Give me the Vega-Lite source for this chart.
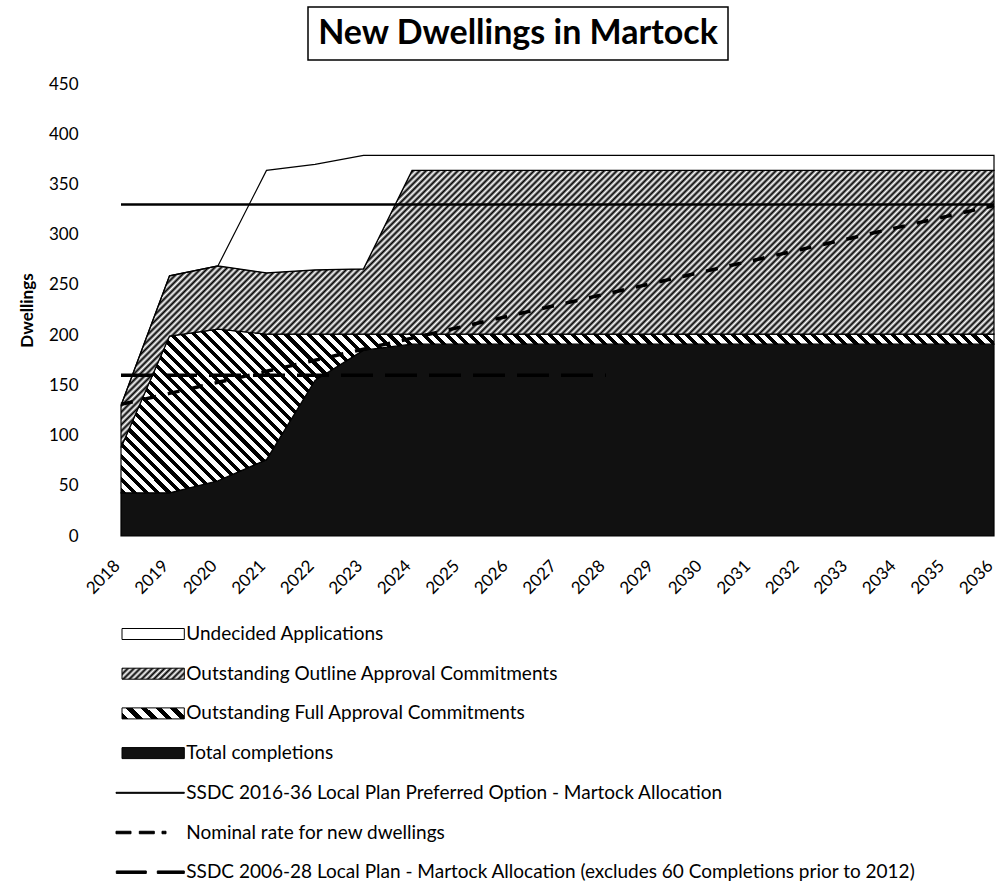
{
"$schema": "https://vega.github.io/schema/vega-lite/v6.json",
"background": "#ffffff",
"padding": {"left": 18, "top": 6, "right": 0, "bottom": 0},
"config": {"font": "Lato", "view": {"stroke": null}},
"datasets": {
"dwellings": [
{"year":2018,"completions":43,"full":45,"outline":42,"undecided":0,"preferred":330,"nominal":131,"plan2006":160},
{"year":2019,"completions":43,"full":156,"outline":60,"undecided":0,"preferred":330,"nominal":142,"plan2006":160},
{"year":2020,"completions":55,"full":151,"outline":63,"undecided":0,"preferred":330,"nominal":153,"plan2006":160},
{"year":2021,"completions":76,"full":125,"outline":61,"undecided":102,"preferred":330,"nominal":164,"plan2006":160},
{"year":2022,"completions":155,"full":46,"outline":64,"undecided":105,"preferred":330,"nominal":175,"plan2006":160},
{"year":2023,"completions":185,"full":16,"outline":65,"undecided":113,"preferred":330,"nominal":186,"plan2006":160},
{"year":2024,"completions":191,"full":10,"outline":163,"undecided":15,"preferred":330,"nominal":197,"plan2006":160},
{"year":2025,"completions":191,"full":10,"outline":163,"undecided":15,"preferred":330,"nominal":208,"plan2006":160},
{"year":2026,"completions":191,"full":10,"outline":163,"undecided":15,"preferred":330,"nominal":219,"plan2006":160},
{"year":2027,"completions":191,"full":10,"outline":163,"undecided":15,"preferred":330,"nominal":230,"plan2006":160},
{"year":2028,"completions":191,"full":10,"outline":163,"undecided":15,"preferred":330,"nominal":241,"plan2006":160},
{"year":2029,"completions":191,"full":10,"outline":163,"undecided":15,"preferred":330,"nominal":252},
{"year":2030,"completions":191,"full":10,"outline":163,"undecided":15,"preferred":330,"nominal":263},
{"year":2031,"completions":191,"full":10,"outline":163,"undecided":15,"preferred":330,"nominal":274},
{"year":2032,"completions":191,"full":10,"outline":163,"undecided":15,"preferred":330,"nominal":285},
{"year":2033,"completions":191,"full":10,"outline":163,"undecided":15,"preferred":330,"nominal":296},
{"year":2034,"completions":191,"full":10,"outline":163,"undecided":15,"preferred":330,"nominal":307},
{"year":2035,"completions":191,"full":10,"outline":163,"undecided":15,"preferred":330,"nominal":318},
{"year":2036,"completions":191,"full":10,"outline":163,"undecided":15,"preferred":330,"nominal":329}
],
"title": [{"t": "New Dwellings in Martock"}],
"spacer": [{"t": ""}],
"legend": [
{"label": "Undecided Applications"},
{"label": "Outstanding Outline Approval Commitments"},
{"label": "Outstanding Full Approval Commitments"},
{"label": "Total completions"},
{"label": "SSDC 2016-36 Local Plan Preferred Option - Martock Allocation"},
{"label": "Nominal rate for new dwellings"},
{"label": "SSDC 2006-28 Local Plan - Martock Allocation (excludes 60 Completions prior to 2012)"}
]
},
"spacing": 14,
"center": false,
"resolve": {"scale": {"fill": "independent", "shape": "independent", "stroke": "independent"}, "legend": {"fill": "independent", "shape": "independent", "stroke": "independent"}},
"vconcat": [
{
"hconcat": [
{
"data": {"name": "spacer"},
"width": 186,
"height": 53,
"view": {"fill": "#ffffff", "stroke": null},
"mark": {"type": "text"},
"encoding": {"text": {"field": "t"}}
},
{
"data": {"name": "title"},
"width": 420,
"height": 53,
"view": {"stroke": "#000000", "strokeWidth": 1.5},
"mark": {"type": "text", "font": "Lato", "fontSize": 34, "fontWeight": "bold", "color": "#000000"},
"encoding": {"text": {"field": "t"}}
}
],
"spacing": 0
},
{
"width": 873,
"height": 452,
"layer": [
{
"data": {"name": "dwellings"},
"transform": [
{"fold": ["completions","full","outline","undecided"], "as": ["series","value"]},
{"stack": "value", "groupby": ["year"], "sort": [{"field": "series", "order": "ascending"}], "as": ["v0","v1"]}
],
"encoding": {
"x": {"field": "year", "type": "quantitative", "scale": {"domain": [2018, 2036], "nice": false, "zero": false},
"axis": {"title": null, "values": [2018,2019,2020,2021,2022,2023,2024,2025,2026,2027,2028,2029,2030,2031,2032,2033,2034,2035,2036], "format": "d", "grid": false, "ticks": false, "domain": false, "labelAngle": -45, "labelAlign": "right", "labelBaseline": "middle", "labelPadding": 27, "labelOffset": -4, "labelFont": "Lato", "labelFontSize": 17, "labelColor": "#000000", "labelFlush": false, "labelOverlap": false}},
"y": {"field": "v1", "type": "quantitative", "scale": {"domain": [0, 450], "nice": false},
"axis": {"title": "Dwellings", "values": [0,50,100,150,200,250,300,350,400,450], "grid": false, "ticks": false, "domain": false, "labelFont": "Lato", "labelFontSize": 17, "labelColor": "#000000", "labelPadding": 43, "labelFlush": false, "titleFont": "Lato", "titleFontSize": 17, "titleFontWeight": "bold", "titleColor": "#000000", "titlePadding": 12}},
"y2": {"field": "v0"}
},
"layer": [
{"transform": [{"filter": "datum.series === 'completions'"}], "mark": {"type": "area", "fill": "#111111", "stroke": "#000000", "strokeWidth": 1.2}},
{"transform": [{"filter": "datum.series === 'full'"}], "mark": {"type": "area", "stroke": "#000000", "strokeWidth": 1.2, "fill": {"gradient": "linear", "x1": 0, "y1": 1, "x2": 1.2671, "y2": 0.7625, "stops": [
{"offset":0,"color":"#000"},{"offset":0.0045,"color":"#000"},{"offset":0.0045,"color":"#fff"},{"offset":0.01,"color":"#fff"},
{"offset":0.01,"color":"#000"},{"offset":0.0145,"color":"#000"},{"offset":0.0145,"color":"#fff"},{"offset":0.02,"color":"#fff"},
{"offset":0.02,"color":"#000"},{"offset":0.0245,"color":"#000"},{"offset":0.0245,"color":"#fff"},{"offset":0.03,"color":"#fff"},
{"offset":0.03,"color":"#000"},{"offset":0.0345,"color":"#000"},{"offset":0.0345,"color":"#fff"},{"offset":0.04,"color":"#fff"},
{"offset":0.04,"color":"#000"},{"offset":0.0445,"color":"#000"},{"offset":0.0445,"color":"#fff"},{"offset":0.05,"color":"#fff"},
{"offset":0.05,"color":"#000"},{"offset":0.0545,"color":"#000"},{"offset":0.0545,"color":"#fff"},{"offset":0.06,"color":"#fff"},
{"offset":0.06,"color":"#000"},{"offset":0.0645,"color":"#000"},{"offset":0.0645,"color":"#fff"},{"offset":0.07,"color":"#fff"},
{"offset":0.07,"color":"#000"},{"offset":0.0745,"color":"#000"},{"offset":0.0745,"color":"#fff"},{"offset":0.08,"color":"#fff"},
{"offset":0.08,"color":"#000"},{"offset":0.0845,"color":"#000"},{"offset":0.0845,"color":"#fff"},{"offset":0.09,"color":"#fff"},
{"offset":0.09,"color":"#000"},{"offset":0.0945,"color":"#000"},{"offset":0.0945,"color":"#fff"},{"offset":0.1,"color":"#fff"},
{"offset":0.1,"color":"#000"},{"offset":0.1045,"color":"#000"},{"offset":0.1045,"color":"#fff"},{"offset":0.11,"color":"#fff"},
{"offset":0.11,"color":"#000"},{"offset":0.1145,"color":"#000"},{"offset":0.1145,"color":"#fff"},{"offset":0.12,"color":"#fff"},
{"offset":0.12,"color":"#000"},{"offset":0.1245,"color":"#000"},{"offset":0.1245,"color":"#fff"},{"offset":0.13,"color":"#fff"},
{"offset":0.13,"color":"#000"},{"offset":0.1345,"color":"#000"},{"offset":0.1345,"color":"#fff"},{"offset":0.14,"color":"#fff"},
{"offset":0.14,"color":"#000"},{"offset":0.1445,"color":"#000"},{"offset":0.1445,"color":"#fff"},{"offset":0.15,"color":"#fff"},
{"offset":0.15,"color":"#000"},{"offset":0.1545,"color":"#000"},{"offset":0.1545,"color":"#fff"},{"offset":0.16,"color":"#fff"},
{"offset":0.16,"color":"#000"},{"offset":0.1645,"color":"#000"},{"offset":0.1645,"color":"#fff"},{"offset":0.17,"color":"#fff"},
{"offset":0.17,"color":"#000"},{"offset":0.1745,"color":"#000"},{"offset":0.1745,"color":"#fff"},{"offset":0.18,"color":"#fff"},
{"offset":0.18,"color":"#000"},{"offset":0.1845,"color":"#000"},{"offset":0.1845,"color":"#fff"},{"offset":0.19,"color":"#fff"},
{"offset":0.19,"color":"#000"},{"offset":0.1945,"color":"#000"},{"offset":0.1945,"color":"#fff"},{"offset":0.2,"color":"#fff"},
{"offset":0.2,"color":"#000"},{"offset":0.2045,"color":"#000"},{"offset":0.2045,"color":"#fff"},{"offset":0.21,"color":"#fff"},
{"offset":0.21,"color":"#000"},{"offset":0.2145,"color":"#000"},{"offset":0.2145,"color":"#fff"},{"offset":0.22,"color":"#fff"},
{"offset":0.22,"color":"#000"},{"offset":0.2245,"color":"#000"},{"offset":0.2245,"color":"#fff"},{"offset":0.23,"color":"#fff"},
{"offset":0.23,"color":"#000"},{"offset":0.2345,"color":"#000"},{"offset":0.2345,"color":"#fff"},{"offset":0.24,"color":"#fff"},
{"offset":0.24,"color":"#000"},{"offset":0.2445,"color":"#000"},{"offset":0.2445,"color":"#fff"},{"offset":0.25,"color":"#fff"},
{"offset":0.25,"color":"#000"},{"offset":0.2545,"color":"#000"},{"offset":0.2545,"color":"#fff"},{"offset":0.26,"color":"#fff"},
{"offset":0.26,"color":"#000"},{"offset":0.2645,"color":"#000"},{"offset":0.2645,"color":"#fff"},{"offset":0.27,"color":"#fff"},
{"offset":0.27,"color":"#000"},{"offset":0.2745,"color":"#000"},{"offset":0.2745,"color":"#fff"},{"offset":0.28,"color":"#fff"},
{"offset":0.28,"color":"#000"},{"offset":0.2845,"color":"#000"},{"offset":0.2845,"color":"#fff"},{"offset":0.29,"color":"#fff"},
{"offset":0.29,"color":"#000"},{"offset":0.2945,"color":"#000"},{"offset":0.2945,"color":"#fff"},{"offset":0.3,"color":"#fff"},
{"offset":0.3,"color":"#000"},{"offset":0.3045,"color":"#000"},{"offset":0.3045,"color":"#fff"},{"offset":0.31,"color":"#fff"},
{"offset":0.31,"color":"#000"},{"offset":0.3145,"color":"#000"},{"offset":0.3145,"color":"#fff"},{"offset":0.32,"color":"#fff"},
{"offset":0.32,"color":"#000"},{"offset":0.3245,"color":"#000"},{"offset":0.3245,"color":"#fff"},{"offset":0.33,"color":"#fff"},
{"offset":0.33,"color":"#000"},{"offset":0.3345,"color":"#000"},{"offset":0.3345,"color":"#fff"},{"offset":0.34,"color":"#fff"},
{"offset":0.34,"color":"#000"},{"offset":0.3445,"color":"#000"},{"offset":0.3445,"color":"#fff"},{"offset":0.35,"color":"#fff"},
{"offset":0.35,"color":"#000"},{"offset":0.3545,"color":"#000"},{"offset":0.3545,"color":"#fff"},{"offset":0.36,"color":"#fff"},
{"offset":0.36,"color":"#000"},{"offset":0.3645,"color":"#000"},{"offset":0.3645,"color":"#fff"},{"offset":0.37,"color":"#fff"},
{"offset":0.37,"color":"#000"},{"offset":0.3745,"color":"#000"},{"offset":0.3745,"color":"#fff"},{"offset":0.38,"color":"#fff"},
{"offset":0.38,"color":"#000"},{"offset":0.3845,"color":"#000"},{"offset":0.3845,"color":"#fff"},{"offset":0.39,"color":"#fff"},
{"offset":0.39,"color":"#000"},{"offset":0.3945,"color":"#000"},{"offset":0.3945,"color":"#fff"},{"offset":0.4,"color":"#fff"},
{"offset":0.4,"color":"#000"},{"offset":0.4045,"color":"#000"},{"offset":0.4045,"color":"#fff"},{"offset":0.41,"color":"#fff"},
{"offset":0.41,"color":"#000"},{"offset":0.4145,"color":"#000"},{"offset":0.4145,"color":"#fff"},{"offset":0.42,"color":"#fff"},
{"offset":0.42,"color":"#000"},{"offset":0.4245,"color":"#000"},{"offset":0.4245,"color":"#fff"},{"offset":0.43,"color":"#fff"},
{"offset":0.43,"color":"#000"},{"offset":0.4345,"color":"#000"},{"offset":0.4345,"color":"#fff"},{"offset":0.44,"color":"#fff"},
{"offset":0.44,"color":"#000"},{"offset":0.4445,"color":"#000"},{"offset":0.4445,"color":"#fff"},{"offset":0.45,"color":"#fff"},
{"offset":0.45,"color":"#000"},{"offset":0.4545,"color":"#000"},{"offset":0.4545,"color":"#fff"},{"offset":0.46,"color":"#fff"},
{"offset":0.46,"color":"#000"},{"offset":0.4645,"color":"#000"},{"offset":0.4645,"color":"#fff"},{"offset":0.47,"color":"#fff"},
{"offset":0.47,"color":"#000"},{"offset":0.4745,"color":"#000"},{"offset":0.4745,"color":"#fff"},{"offset":0.48,"color":"#fff"},
{"offset":0.48,"color":"#000"},{"offset":0.4845,"color":"#000"},{"offset":0.4845,"color":"#fff"},{"offset":0.49,"color":"#fff"},
{"offset":0.49,"color":"#000"},{"offset":0.4945,"color":"#000"},{"offset":0.4945,"color":"#fff"},{"offset":0.5,"color":"#fff"},
{"offset":0.5,"color":"#000"},{"offset":0.5045,"color":"#000"},{"offset":0.5045,"color":"#fff"},{"offset":0.51,"color":"#fff"},
{"offset":0.51,"color":"#000"},{"offset":0.5145,"color":"#000"},{"offset":0.5145,"color":"#fff"},{"offset":0.52,"color":"#fff"},
{"offset":0.52,"color":"#000"},{"offset":0.5245,"color":"#000"},{"offset":0.5245,"color":"#fff"},{"offset":0.53,"color":"#fff"},
{"offset":0.53,"color":"#000"},{"offset":0.5345,"color":"#000"},{"offset":0.5345,"color":"#fff"},{"offset":0.54,"color":"#fff"},
{"offset":0.54,"color":"#000"},{"offset":0.5445,"color":"#000"},{"offset":0.5445,"color":"#fff"},{"offset":0.55,"color":"#fff"},
{"offset":0.55,"color":"#000"},{"offset":0.5545,"color":"#000"},{"offset":0.5545,"color":"#fff"},{"offset":0.56,"color":"#fff"},
{"offset":0.56,"color":"#000"},{"offset":0.5645,"color":"#000"},{"offset":0.5645,"color":"#fff"},{"offset":0.57,"color":"#fff"},
{"offset":0.57,"color":"#000"},{"offset":0.5745,"color":"#000"},{"offset":0.5745,"color":"#fff"},{"offset":0.58,"color":"#fff"},
{"offset":0.58,"color":"#000"},{"offset":0.5845,"color":"#000"},{"offset":0.5845,"color":"#fff"},{"offset":0.59,"color":"#fff"},
{"offset":0.59,"color":"#000"},{"offset":0.5945,"color":"#000"},{"offset":0.5945,"color":"#fff"},{"offset":0.6,"color":"#fff"},
{"offset":0.6,"color":"#000"},{"offset":0.6045,"color":"#000"},{"offset":0.6045,"color":"#fff"},{"offset":0.61,"color":"#fff"},
{"offset":0.61,"color":"#000"},{"offset":0.6145,"color":"#000"},{"offset":0.6145,"color":"#fff"},{"offset":0.62,"color":"#fff"},
{"offset":0.62,"color":"#000"},{"offset":0.6245,"color":"#000"},{"offset":0.6245,"color":"#fff"},{"offset":0.63,"color":"#fff"},
{"offset":0.63,"color":"#000"},{"offset":0.6345,"color":"#000"},{"offset":0.6345,"color":"#fff"},{"offset":0.64,"color":"#fff"},
{"offset":0.64,"color":"#000"},{"offset":0.6445,"color":"#000"},{"offset":0.6445,"color":"#fff"},{"offset":0.65,"color":"#fff"},
{"offset":0.65,"color":"#000"},{"offset":0.6545,"color":"#000"},{"offset":0.6545,"color":"#fff"},{"offset":0.66,"color":"#fff"},
{"offset":0.66,"color":"#000"},{"offset":0.6645,"color":"#000"},{"offset":0.6645,"color":"#fff"},{"offset":0.67,"color":"#fff"},
{"offset":0.67,"color":"#000"},{"offset":0.6745,"color":"#000"},{"offset":0.6745,"color":"#fff"},{"offset":0.68,"color":"#fff"},
{"offset":0.68,"color":"#000"},{"offset":0.6845,"color":"#000"},{"offset":0.6845,"color":"#fff"},{"offset":0.69,"color":"#fff"},
{"offset":0.69,"color":"#000"},{"offset":0.6945,"color":"#000"},{"offset":0.6945,"color":"#fff"},{"offset":0.7,"color":"#fff"},
{"offset":0.7,"color":"#000"},{"offset":0.7045,"color":"#000"},{"offset":0.7045,"color":"#fff"},{"offset":0.71,"color":"#fff"},
{"offset":0.71,"color":"#000"},{"offset":0.7145,"color":"#000"},{"offset":0.7145,"color":"#fff"},{"offset":0.72,"color":"#fff"},
{"offset":0.72,"color":"#000"},{"offset":0.7245,"color":"#000"},{"offset":0.7245,"color":"#fff"},{"offset":0.73,"color":"#fff"},
{"offset":0.73,"color":"#000"},{"offset":0.7345,"color":"#000"},{"offset":0.7345,"color":"#fff"},{"offset":0.74,"color":"#fff"},
{"offset":0.74,"color":"#000"},{"offset":0.7445,"color":"#000"},{"offset":0.7445,"color":"#fff"},{"offset":0.75,"color":"#fff"},
{"offset":0.75,"color":"#000"},{"offset":0.7545,"color":"#000"},{"offset":0.7545,"color":"#fff"},{"offset":0.76,"color":"#fff"},
{"offset":0.76,"color":"#000"},{"offset":0.7645,"color":"#000"},{"offset":0.7645,"color":"#fff"},{"offset":0.77,"color":"#fff"},
{"offset":0.77,"color":"#000"},{"offset":0.7745,"color":"#000"},{"offset":0.7745,"color":"#fff"},{"offset":0.78,"color":"#fff"},
{"offset":0.78,"color":"#000"},{"offset":0.7845,"color":"#000"},{"offset":0.7845,"color":"#fff"},{"offset":0.79,"color":"#fff"},
{"offset":0.79,"color":"#000"},{"offset":0.7945,"color":"#000"},{"offset":0.7945,"color":"#fff"},{"offset":0.8,"color":"#fff"},
{"offset":0.8,"color":"#000"},{"offset":0.8045,"color":"#000"},{"offset":0.8045,"color":"#fff"},{"offset":0.81,"color":"#fff"},
{"offset":0.81,"color":"#000"},{"offset":0.8145,"color":"#000"},{"offset":0.8145,"color":"#fff"},{"offset":0.82,"color":"#fff"},
{"offset":0.82,"color":"#000"},{"offset":0.8245,"color":"#000"},{"offset":0.8245,"color":"#fff"},{"offset":0.83,"color":"#fff"},
{"offset":0.83,"color":"#000"},{"offset":0.8345,"color":"#000"},{"offset":0.8345,"color":"#fff"},{"offset":0.84,"color":"#fff"},
{"offset":0.84,"color":"#000"},{"offset":0.8445,"color":"#000"},{"offset":0.8445,"color":"#fff"},{"offset":0.85,"color":"#fff"},
{"offset":0.85,"color":"#000"},{"offset":0.8545,"color":"#000"},{"offset":0.8545,"color":"#fff"},{"offset":0.86,"color":"#fff"},
{"offset":0.86,"color":"#000"},{"offset":0.8645,"color":"#000"},{"offset":0.8645,"color":"#fff"},{"offset":0.87,"color":"#fff"},
{"offset":0.87,"color":"#000"},{"offset":0.8745,"color":"#000"},{"offset":0.8745,"color":"#fff"},{"offset":0.88,"color":"#fff"},
{"offset":0.88,"color":"#000"},{"offset":0.8845,"color":"#000"},{"offset":0.8845,"color":"#fff"},{"offset":0.89,"color":"#fff"},
{"offset":0.89,"color":"#000"},{"offset":0.8945,"color":"#000"},{"offset":0.8945,"color":"#fff"},{"offset":0.9,"color":"#fff"},
{"offset":0.9,"color":"#000"},{"offset":0.9045,"color":"#000"},{"offset":0.9045,"color":"#fff"},{"offset":0.91,"color":"#fff"}
]}}},
{"transform": [{"filter": "datum.series === 'outline'"}], "mark": {"type": "area", "stroke": "#000000", "strokeWidth": 1.2, "fill": {"gradient": "linear", "x1": 0, "y1": 0, "x2": 1.3241, "y2": 0.4203, "stops": [
{"offset":0.12,"color":"#000"},{"offset":0.1225,"color":"#fff"},{"offset":0.125,"color":"#000"},{"offset":0.1275,"color":"#fff"},
{"offset":0.13,"color":"#000"},{"offset":0.1325,"color":"#fff"},{"offset":0.135,"color":"#000"},{"offset":0.1375,"color":"#fff"},
{"offset":0.14,"color":"#000"},{"offset":0.1425,"color":"#fff"},{"offset":0.145,"color":"#000"},{"offset":0.1475,"color":"#fff"},
{"offset":0.15,"color":"#000"},{"offset":0.1525,"color":"#fff"},{"offset":0.155,"color":"#000"},{"offset":0.1575,"color":"#fff"},
{"offset":0.16,"color":"#000"},{"offset":0.1625,"color":"#fff"},{"offset":0.165,"color":"#000"},{"offset":0.1675,"color":"#fff"},
{"offset":0.17,"color":"#000"},{"offset":0.1725,"color":"#fff"},{"offset":0.175,"color":"#000"},{"offset":0.1775,"color":"#fff"},
{"offset":0.18,"color":"#000"},{"offset":0.1825,"color":"#fff"},{"offset":0.185,"color":"#000"},{"offset":0.1875,"color":"#fff"},
{"offset":0.19,"color":"#000"},{"offset":0.1925,"color":"#fff"},{"offset":0.195,"color":"#000"},{"offset":0.1975,"color":"#fff"},
{"offset":0.2,"color":"#000"},{"offset":0.2025,"color":"#fff"},{"offset":0.205,"color":"#000"},{"offset":0.2075,"color":"#fff"},
{"offset":0.21,"color":"#000"},{"offset":0.2125,"color":"#fff"},{"offset":0.215,"color":"#000"},{"offset":0.2175,"color":"#fff"},
{"offset":0.22,"color":"#000"},{"offset":0.2225,"color":"#fff"},{"offset":0.225,"color":"#000"},{"offset":0.2275,"color":"#fff"},
{"offset":0.23,"color":"#000"},{"offset":0.2325,"color":"#fff"},{"offset":0.235,"color":"#000"},{"offset":0.2375,"color":"#fff"},
{"offset":0.24,"color":"#000"},{"offset":0.2425,"color":"#fff"},{"offset":0.245,"color":"#000"},{"offset":0.2475,"color":"#fff"},
{"offset":0.25,"color":"#000"},{"offset":0.2525,"color":"#fff"},{"offset":0.255,"color":"#000"},{"offset":0.2575,"color":"#fff"},
{"offset":0.26,"color":"#000"},{"offset":0.2625,"color":"#fff"},{"offset":0.265,"color":"#000"},{"offset":0.2675,"color":"#fff"},
{"offset":0.27,"color":"#000"},{"offset":0.2725,"color":"#fff"},{"offset":0.275,"color":"#000"},{"offset":0.2775,"color":"#fff"},
{"offset":0.28,"color":"#000"},{"offset":0.2825,"color":"#fff"},{"offset":0.285,"color":"#000"},{"offset":0.2875,"color":"#fff"},
{"offset":0.29,"color":"#000"},{"offset":0.2925,"color":"#fff"},{"offset":0.295,"color":"#000"},{"offset":0.2975,"color":"#fff"},
{"offset":0.3,"color":"#000"},{"offset":0.3025,"color":"#fff"},{"offset":0.305,"color":"#000"},{"offset":0.3075,"color":"#fff"},
{"offset":0.31,"color":"#000"},{"offset":0.3125,"color":"#fff"},{"offset":0.315,"color":"#000"},{"offset":0.3175,"color":"#fff"},
{"offset":0.32,"color":"#000"},{"offset":0.3225,"color":"#fff"},{"offset":0.325,"color":"#000"},{"offset":0.3275,"color":"#fff"},
{"offset":0.33,"color":"#000"},{"offset":0.3325,"color":"#fff"},{"offset":0.335,"color":"#000"},{"offset":0.3375,"color":"#fff"},
{"offset":0.34,"color":"#000"},{"offset":0.3425,"color":"#fff"},{"offset":0.345,"color":"#000"},{"offset":0.3475,"color":"#fff"},
{"offset":0.35,"color":"#000"},{"offset":0.3525,"color":"#fff"},{"offset":0.355,"color":"#000"},{"offset":0.3575,"color":"#fff"},
{"offset":0.36,"color":"#000"},{"offset":0.3625,"color":"#fff"},{"offset":0.365,"color":"#000"},{"offset":0.3675,"color":"#fff"},
{"offset":0.37,"color":"#000"},{"offset":0.3725,"color":"#fff"},{"offset":0.375,"color":"#000"},{"offset":0.3775,"color":"#fff"},
{"offset":0.38,"color":"#000"},{"offset":0.3825,"color":"#fff"},{"offset":0.385,"color":"#000"},{"offset":0.3875,"color":"#fff"},
{"offset":0.39,"color":"#000"},{"offset":0.3925,"color":"#fff"},{"offset":0.395,"color":"#000"},{"offset":0.3975,"color":"#fff"},
{"offset":0.4,"color":"#000"},{"offset":0.4025,"color":"#fff"},{"offset":0.405,"color":"#000"},{"offset":0.4075,"color":"#fff"},
{"offset":0.41,"color":"#000"},{"offset":0.4125,"color":"#fff"},{"offset":0.415,"color":"#000"},{"offset":0.4175,"color":"#fff"},
{"offset":0.42,"color":"#000"},{"offset":0.4225,"color":"#fff"},{"offset":0.425,"color":"#000"},{"offset":0.4275,"color":"#fff"},
{"offset":0.43,"color":"#000"},{"offset":0.4325,"color":"#fff"},{"offset":0.435,"color":"#000"},{"offset":0.4375,"color":"#fff"},
{"offset":0.44,"color":"#000"},{"offset":0.4425,"color":"#fff"},{"offset":0.445,"color":"#000"},{"offset":0.4475,"color":"#fff"},
{"offset":0.45,"color":"#000"},{"offset":0.4525,"color":"#fff"},{"offset":0.455,"color":"#000"},{"offset":0.4575,"color":"#fff"},
{"offset":0.46,"color":"#000"},{"offset":0.4625,"color":"#fff"},{"offset":0.465,"color":"#000"},{"offset":0.4675,"color":"#fff"},
{"offset":0.47,"color":"#000"},{"offset":0.4725,"color":"#fff"},{"offset":0.475,"color":"#000"},{"offset":0.4775,"color":"#fff"},
{"offset":0.48,"color":"#000"},{"offset":0.4825,"color":"#fff"},{"offset":0.485,"color":"#000"},{"offset":0.4875,"color":"#fff"},
{"offset":0.49,"color":"#000"},{"offset":0.4925,"color":"#fff"},{"offset":0.495,"color":"#000"},{"offset":0.4975,"color":"#fff"},
{"offset":0.5,"color":"#000"},{"offset":0.5025,"color":"#fff"},{"offset":0.505,"color":"#000"},{"offset":0.5075,"color":"#fff"},
{"offset":0.51,"color":"#000"},{"offset":0.5125,"color":"#fff"},{"offset":0.515,"color":"#000"},{"offset":0.5175,"color":"#fff"},
{"offset":0.52,"color":"#000"},{"offset":0.5225,"color":"#fff"},{"offset":0.525,"color":"#000"},{"offset":0.5275,"color":"#fff"},
{"offset":0.53,"color":"#000"},{"offset":0.5325,"color":"#fff"},{"offset":0.535,"color":"#000"},{"offset":0.5375,"color":"#fff"},
{"offset":0.54,"color":"#000"},{"offset":0.5425,"color":"#fff"},{"offset":0.545,"color":"#000"},{"offset":0.5475,"color":"#fff"},
{"offset":0.55,"color":"#000"},{"offset":0.5525,"color":"#fff"},{"offset":0.555,"color":"#000"},{"offset":0.5575,"color":"#fff"},
{"offset":0.56,"color":"#000"},{"offset":0.5625,"color":"#fff"},{"offset":0.565,"color":"#000"},{"offset":0.5675,"color":"#fff"},
{"offset":0.57,"color":"#000"},{"offset":0.5725,"color":"#fff"},{"offset":0.575,"color":"#000"},{"offset":0.5775,"color":"#fff"},
{"offset":0.58,"color":"#000"},{"offset":0.5825,"color":"#fff"},{"offset":0.585,"color":"#000"},{"offset":0.5875,"color":"#fff"},
{"offset":0.59,"color":"#000"},{"offset":0.5925,"color":"#fff"},{"offset":0.595,"color":"#000"},{"offset":0.5975,"color":"#fff"},
{"offset":0.6,"color":"#000"},{"offset":0.6025,"color":"#fff"},{"offset":0.605,"color":"#000"},{"offset":0.6075,"color":"#fff"},
{"offset":0.61,"color":"#000"},{"offset":0.6125,"color":"#fff"},{"offset":0.615,"color":"#000"},{"offset":0.6175,"color":"#fff"},
{"offset":0.62,"color":"#000"},{"offset":0.6225,"color":"#fff"},{"offset":0.625,"color":"#000"},{"offset":0.6275,"color":"#fff"},
{"offset":0.63,"color":"#000"},{"offset":0.6325,"color":"#fff"},{"offset":0.635,"color":"#000"},{"offset":0.6375,"color":"#fff"},
{"offset":0.64,"color":"#000"},{"offset":0.6425,"color":"#fff"},{"offset":0.645,"color":"#000"},{"offset":0.6475,"color":"#fff"},
{"offset":0.65,"color":"#000"},{"offset":0.6525,"color":"#fff"},{"offset":0.655,"color":"#000"},{"offset":0.6575,"color":"#fff"},
{"offset":0.66,"color":"#000"},{"offset":0.6625,"color":"#fff"},{"offset":0.665,"color":"#000"},{"offset":0.6675,"color":"#fff"},
{"offset":0.67,"color":"#000"},{"offset":0.6725,"color":"#fff"},{"offset":0.675,"color":"#000"},{"offset":0.6775,"color":"#fff"},
{"offset":0.68,"color":"#000"},{"offset":0.6825,"color":"#fff"},{"offset":0.685,"color":"#000"},{"offset":0.6875,"color":"#fff"},
{"offset":0.69,"color":"#000"},{"offset":0.6925,"color":"#fff"},{"offset":0.695,"color":"#000"},{"offset":0.6975,"color":"#fff"},
{"offset":0.7,"color":"#000"},{"offset":0.7025,"color":"#fff"},{"offset":0.705,"color":"#000"},{"offset":0.7075,"color":"#fff"},
{"offset":0.71,"color":"#000"},{"offset":0.7125,"color":"#fff"},{"offset":0.715,"color":"#000"},{"offset":0.7175,"color":"#fff"},
{"offset":0.72,"color":"#000"},{"offset":0.7225,"color":"#fff"},{"offset":0.725,"color":"#000"},{"offset":0.7275,"color":"#fff"},
{"offset":0.73,"color":"#000"},{"offset":0.7325,"color":"#fff"},{"offset":0.735,"color":"#000"},{"offset":0.7375,"color":"#fff"},
{"offset":0.74,"color":"#000"},{"offset":0.7425,"color":"#fff"},{"offset":0.745,"color":"#000"},{"offset":0.7475,"color":"#fff"},
{"offset":0.75,"color":"#000"},{"offset":0.7525,"color":"#fff"},{"offset":0.755,"color":"#000"},{"offset":0.7575,"color":"#fff"},
{"offset":0.76,"color":"#000"},{"offset":0.7625,"color":"#fff"},{"offset":0.765,"color":"#000"},{"offset":0.7675,"color":"#fff"},
{"offset":0.77,"color":"#000"},{"offset":0.7725,"color":"#fff"},{"offset":0.775,"color":"#000"},{"offset":0.7775,"color":"#fff"},
{"offset":0.78,"color":"#000"},{"offset":0.7825,"color":"#fff"},{"offset":0.785,"color":"#000"},{"offset":0.7875,"color":"#fff"},
{"offset":0.79,"color":"#000"},{"offset":0.7925,"color":"#fff"},{"offset":0.795,"color":"#000"},{"offset":0.7975,"color":"#fff"},
{"offset":0.8,"color":"#000"},{"offset":0.8025,"color":"#fff"},{"offset":0.805,"color":"#000"},{"offset":0.8075,"color":"#fff"},
{"offset":0.81,"color":"#000"},{"offset":0.8125,"color":"#fff"},{"offset":0.815,"color":"#000"},{"offset":0.8175,"color":"#fff"}
]}}},
{"transform": [{"filter": "datum.series === 'undecided'"}], "mark": {"type": "area", "fill": "#ffffff", "stroke": "#000000", "strokeWidth": 1.2}}
]
},
{
"data": {"name": "dwellings"},
"mark": {"type": "line", "stroke": "#000000", "strokeWidth": 2.5},
"encoding": {"x": {"field": "year", "type": "quantitative"}, "y": {"field": "preferred", "type": "quantitative"}}
},
{
"data": {"name": "dwellings"},
"transform": [{"filter": "isValid(datum.plan2006)"}],
"mark": {"type": "line", "stroke": "#000000", "strokeWidth": 3.5, "strokeDash": [32, 12]},
"encoding": {"x": {"field": "year", "type": "quantitative"}, "y": {"field": "plan2006", "type": "quantitative"}}
},
{
"data": {"name": "dwellings"},
"mark": {"type": "line", "stroke": "#000000", "strokeWidth": 3.5, "strokeDash": [12, 12]},
"encoding": {"x": {"field": "year", "type": "quantitative"}, "y": {"field": "nominal", "type": "quantitative"}}
},
{
"data": {"name": "legend"},
"mark": {"type": "point", "opacity": 0, "filled": false},
"encoding": {
"shape": {"field": "label", "type": "nominal",
"scale": {"domain": ["Undecided Applications","Outstanding Outline Approval Commitments","Outstanding Full Approval Commitments","Total completions","SSDC 2016-36 Local Plan Preferred Option - Martock Allocation","Nominal rate for new dwellings","SSDC 2006-28 Local Plan - Martock Allocation (excludes 60 Completions prior to 2012)"],
"range": ["M-6.24,-1.1H6.22V1.1H-6.24Z","M-6.24,-1.1H6.22V1.1H-6.24Z","M-6.24,-1.1H6.22V1.1H-6.24Z","M-6.24,-1.1H6.22V1.1H-6.24Z","M-7.44,-0.1H6.22V0.1H-7.44Z","M-7.44,-0.25H-4.44V0.25H-7.44Z M-2.78,-0.25H0.22V0.25H-2.78Z M1.76,-0.25H2.56V0.25H1.76Z","M-7.38,-0.25H-1.38V0.25H-7.38Z M0.82,-0.25H6.22V0.25H0.82Z"]},
"legend": {"title": null, "orient": "none", "legendX": 22.7, "legendY": 540.5, "direction": "vertical", "padding": 0, "symbolSize": 100, "symbolOffset": 0, "labelOffset": 23.6, "rowPadding": 19.7, "symbolOpacity": 1, "symbolStrokeWidth": 1, "labelFont": "Lato", "labelFontSize": 19, "labelColor": "#000000", "labelLimit": 1000}},
"stroke": {"field": "label", "type": "nominal",
"scale": {"domain": ["Undecided Applications","Outstanding Outline Approval Commitments","Outstanding Full Approval Commitments","Total completions","SSDC 2016-36 Local Plan Preferred Option - Martock Allocation","Nominal rate for new dwellings","SSDC 2006-28 Local Plan - Martock Allocation (excludes 60 Completions prior to 2012)"],
"range": ["#000000","#000000","#000000","#000000","#000000","#000000","#000000"]},
"legend": {"title": null, "orient": "none", "legendX": 22.7, "legendY": 540.5, "direction": "vertical", "padding": 0, "symbolSize": 100, "symbolOffset": 0, "labelOffset": 23.6, "rowPadding": 19.7, "symbolOpacity": 1, "symbolStrokeWidth": 1, "labelFont": "Lato", "labelFontSize": 19, "labelColor": "#000000", "labelLimit": 1000}},
"fill": {"field": "label", "type": "nominal",
"scale": {"domain": ["Undecided Applications","Outstanding Outline Approval Commitments","Outstanding Full Approval Commitments","Total completions","SSDC 2016-36 Local Plan Preferred Option - Martock Allocation","Nominal rate for new dwellings","SSDC 2006-28 Local Plan - Martock Allocation (excludes 60 Completions prior to 2012)"],
"range": ["#ffffff",
{"expr": "{gradient: 'linear', x1: 0, y1: 0, x2: 1.1415, y2: 0.2025, stops: [{offset: 0, color: '#000'}, {offset: 0.0417, color: '#fff'}, {offset: 0.0833, color: '#000'}, {offset: 0.125, color: '#fff'}, {offset: 0.1667, color: '#000'}, {offset: 0.2083, color: '#fff'}, {offset: 0.25, color: '#000'}, {offset: 0.2917, color: '#fff'}, {offset: 0.3333, color: '#000'}, {offset: 0.375, color: '#fff'}, {offset: 0.4167, color: '#000'}, {offset: 0.4583, color: '#fff'}, {offset: 0.5, color: '#000'}, {offset: 0.5417, color: '#fff'}, {offset: 0.5833, color: '#000'}, {offset: 0.625, color: '#fff'}, {offset: 0.6667, color: '#000'}, {offset: 0.7083, color: '#fff'}, {offset: 0.75, color: '#000'}, {offset: 0.7917, color: '#fff'}, {offset: 0.8333, color: '#000'}, {offset: 0.875, color: '#fff'}, {offset: 0.9167, color: '#000'}, {offset: 0.9583, color: '#fff'}, {offset: 1, color: '#000'}]}"},
{"expr": "{gradient: 'linear', x1: 0, y1: 1, x2: 1.1415, y2: 0.7975, stops: [{offset: 0, color: '#000'}, {offset: 0.09, color: '#000'}, {offset: 0.09, color: '#fff'}, {offset: 0.2, color: '#fff'}, {offset: 0.2, color: '#000'}, {offset: 0.29, color: '#000'}, {offset: 0.29, color: '#fff'}, {offset: 0.4, color: '#fff'}, {offset: 0.4, color: '#000'}, {offset: 0.49, color: '#000'}, {offset: 0.49, color: '#fff'}, {offset: 0.6, color: '#fff'}, {offset: 0.6, color: '#000'}, {offset: 0.69, color: '#000'}, {offset: 0.69, color: '#fff'}, {offset: 0.8, color: '#fff'}, {offset: 0.8, color: '#000'}, {offset: 0.89, color: '#000'}, {offset: 0.89, color: '#fff'}, {offset: 1, color: '#fff'}]}"},
"#111111","#000000","#000000","#000000"]},
"legend": {"title": null, "orient": "none", "legendX": 22.7, "legendY": 540.5, "direction": "vertical", "padding": 0, "symbolSize": 100, "symbolOffset": 0, "labelOffset": 23.6, "rowPadding": 19.7, "symbolOpacity": 1, "symbolStrokeWidth": 1, "labelFont": "Lato", "labelFontSize": 19, "labelColor": "#000000", "labelLimit": 1000}}
}
}
]
}
]
}
